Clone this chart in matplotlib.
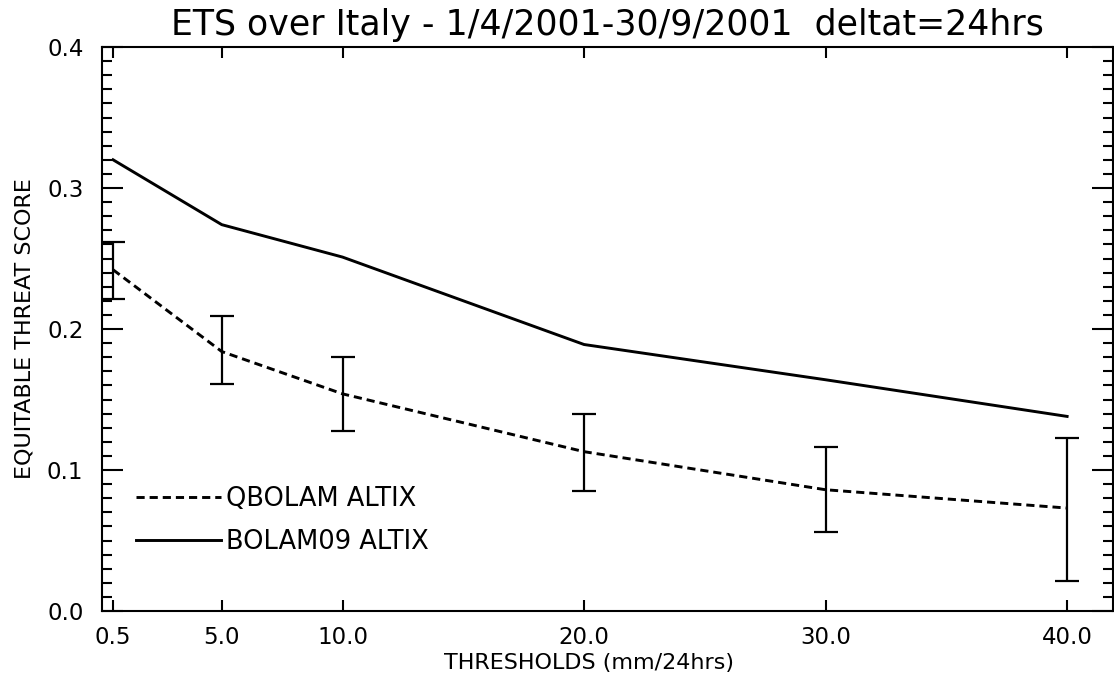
import matplotlib
matplotlib.use("Agg")
import matplotlib.pyplot as plt
from matplotlib.ticker import MultipleLocator, FixedLocator, FormatStrFormatter

# ---- data ----
thresholds = [0.5, 5.0, 10.0, 20.0, 30.0, 40.0]
tick_labels = ["0.5", "5.0", "10.0", "20.0", "30.0", "40.0"]
qbolam = [0.242, 0.184, 0.154, 0.113, 0.086, 0.073]
qbolam_err_top = [0.262, 0.209, 0.180, 0.140, 0.116, 0.123]
qbolam_err_bot = [0.221, 0.161, 0.128, 0.085, 0.056, 0.021]
bolam09 = [0.320, 0.274, 0.251, 0.189, 0.164, 0.138]
series_names = ["QBOLAM ALTIX", "BOLAM09 ALTIX"]
title = "ETS over Italy - 1/4/2001-30/9/2001  deltat=24hrs"
xlabel = "THRESHOLDS (mm/24hrs)"
ylabel = "EQUITABLE THREAT SCORE"

plt.rcParams['font.family'] = ['DejaVu Sans']

fig = plt.figure(figsize=(11.14, 6.82), dpi=100)
ax = fig.add_axes([101.5/1114, 1 - 611/682, (1113 - 101.5)/1114, (611 - 47)/682])

lw = 2.1
ax.plot(thresholds, qbolam, color='black', lw=lw, linestyle=(0, (2.8, 1.7)),
        label=series_names[0])
ax.plot(thresholds, bolam09, color='black', lw=lw, linestyle='-',
        label=series_names[1])

yerr = [[q - b for q, b in zip(qbolam, qbolam_err_bot)],
        [t - q for q, t in zip(qbolam, qbolam_err_top)]]
ax.errorbar(thresholds, qbolam, yerr=yerr, fmt='none', ecolor='black',
            elinewidth=1.6, capsize=8.6, capthick=1.6)

ax.set_xlim(0.02, 41.9)
ax.set_ylim(0.0, 0.4)

ax.xaxis.set_major_locator(FixedLocator(thresholds))
ax.set_xticklabels(tick_labels)
ax.yaxis.set_major_locator(MultipleLocator(0.1))
ax.yaxis.set_minor_locator(MultipleLocator(0.01))
ax.yaxis.set_major_formatter(FormatStrFormatter('%.1f'))

ax.tick_params(axis='x', which='major', direction='in', length=8, width=1.5,
               top=True, bottom=True, labelsize=16.5, pad=11)
ax.tick_params(axis='y', which='major', direction='in', length=15, width=1.5,
               left=True, right=True, labelsize=16.5, pad=13)
ax.tick_params(axis='y', which='minor', direction='in', length=7.5, width=1.5,
               left=True, right=True)

for s in ax.spines.values():
    s.set_linewidth(1.5)

ax.set_title(title, fontsize=25, pad=9)
ax.set_xlabel(xlabel, fontsize=16)
ax.xaxis.set_label_coords(0.482, -0.075)
ax.set_ylabel(ylabel, fontsize=16)
ax.yaxis.set_label_coords(-0.066, 0.5)

leg = ax.legend(loc='upper left', bbox_to_anchor=(0.034, 0.222), frameon=False,
                fontsize=18.5, handlelength=3.3, handletextpad=0.22,
                labelspacing=0.68, borderpad=0, borderaxespad=0)

fig.savefig("out.png", dpi=100)
